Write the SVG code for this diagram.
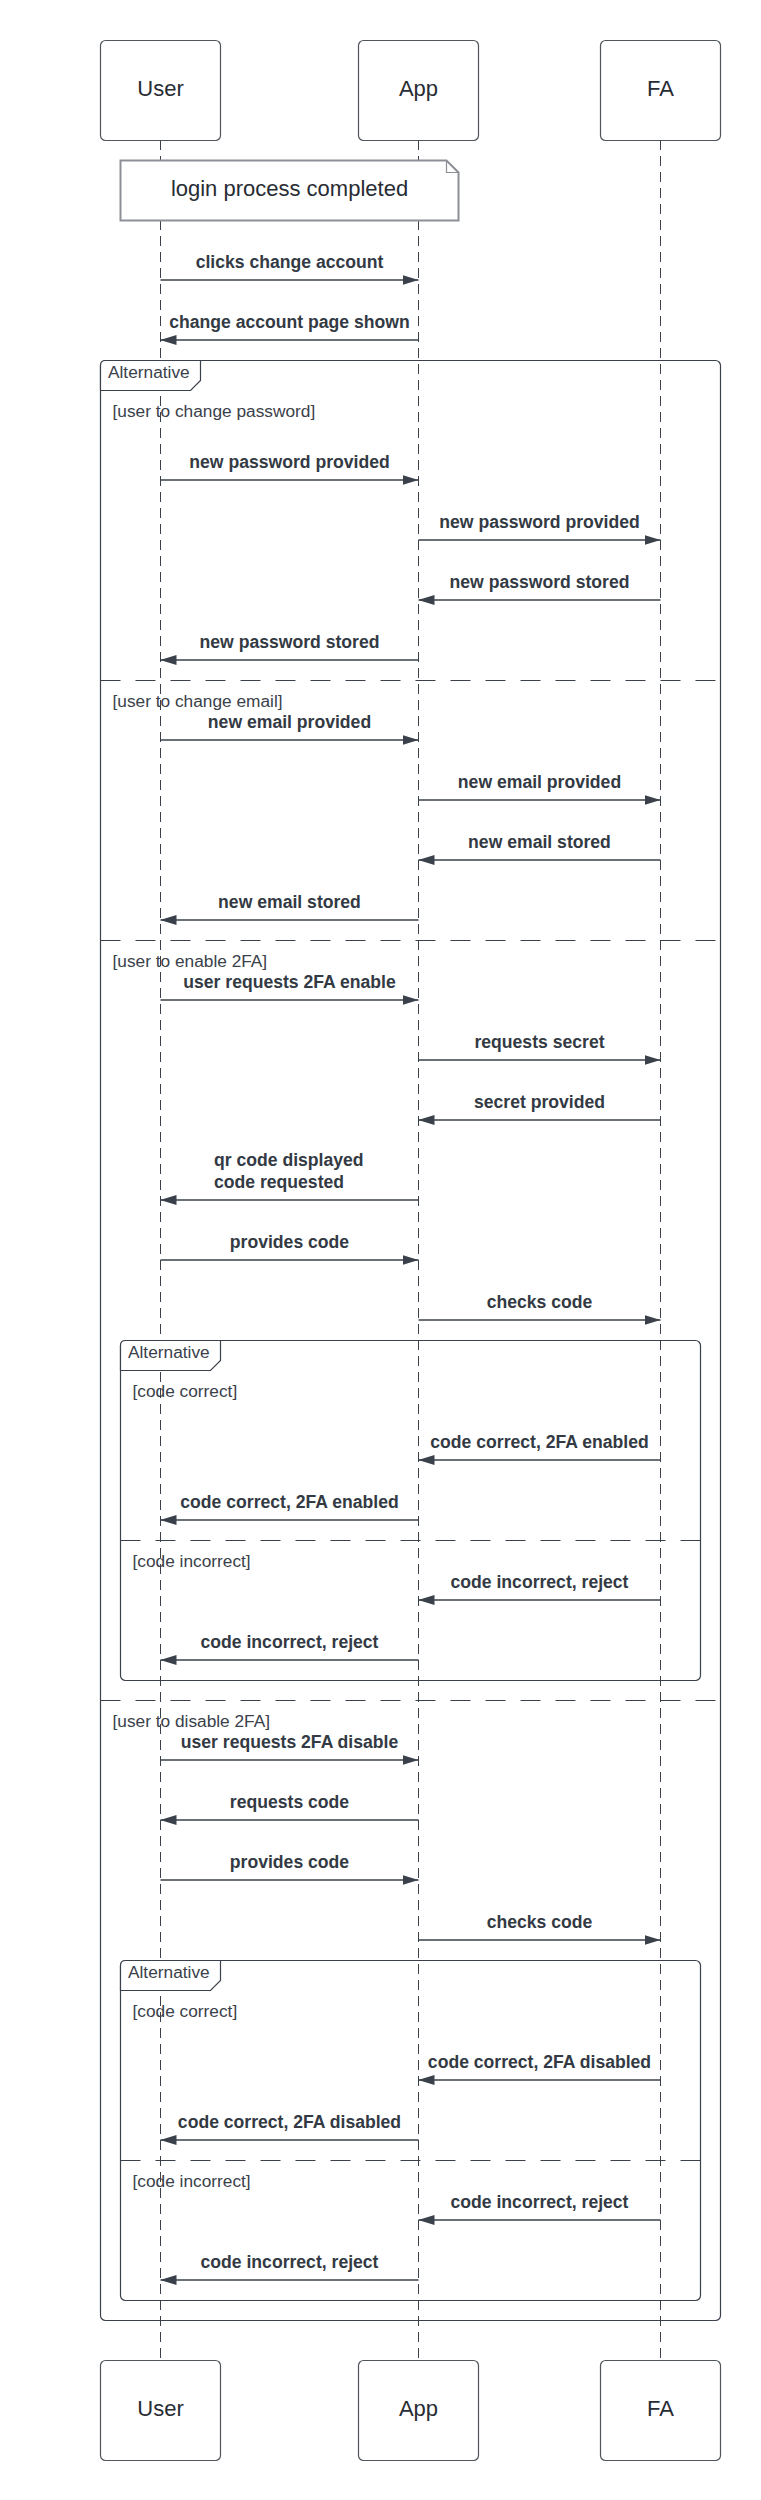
<svg xmlns="http://www.w3.org/2000/svg" width="761" height="2500" viewBox="0 0 761 2500">
<defs>
<marker id="ah" viewBox="0 0 16 10" refX="16" refY="5" markerWidth="16" markerHeight="10" markerUnits="userSpaceOnUse" orient="auto">
<path d="M0,0 L16,5 L0,10 Z" fill="#3a414a"/>
</marker>
<style>
.box{fill:#fff;stroke:#50555c;stroke-width:1.2}
.life{fill:none;stroke:#3a414a;stroke-width:1;stroke-dasharray:10 6}
.msg{fill:none;stroke:#3a414a;stroke-width:1.5;marker-end:url(#ah)}
.frame{fill:none;stroke:#3a414a;stroke-width:1.2}
.tab{fill:#fff;stroke:#3a414a;stroke-width:1.2}
.div{fill:none;stroke:#3a414a;stroke-width:1.2;stroke-dasharray:20 15}
.note{fill:#fff;stroke:#8c9096;stroke-width:2}
.lbl{font-family:"Liberation Sans",Arial,sans-serif;font-size:22px;fill:#282c33;text-anchor:middle}
.mt{font-family:"Liberation Sans",Arial,sans-serif;font-weight:bold;font-size:17.6px;fill:#333a44;text-anchor:middle}
.ml{font-family:"Liberation Sans",Arial,sans-serif;font-weight:bold;font-size:17.6px;fill:#333a44}
.ft{font-family:"Liberation Sans",Arial,sans-serif;font-size:17.3px;fill:#3a414a}
</style>
</defs>
<rect width="761" height="2500" fill="#fff"/>
<g id="lifelines">
<line class="life" x1="160.5" y1="140" x2="160.5" y2="2360"/>
<line class="life" x1="418.5" y1="140" x2="418.5" y2="2360"/>
<line class="life" x1="660.5" y1="140" x2="660.5" y2="2360"/>
</g>
<g id="participants">
<g id="user-top"><rect class="box" x="100.5" y="40.5" width="120" height="100" rx="5"/><text class="lbl" x="160.5" y="96">User</text></g>
<g id="app-top"><rect class="box" x="358.5" y="40.5" width="120" height="100" rx="5"/><text class="lbl" x="418.5" y="96">App</text></g>
<g id="fa-top"><rect class="box" x="600.5" y="40.5" width="120" height="100" rx="5"/><text class="lbl" x="660.5" y="96">FA</text></g>
<g id="user-bottom"><rect class="box" x="100.5" y="2360.5" width="120" height="100" rx="5"/><text class="lbl" x="160.5" y="2416">User</text></g>
<g id="app-bottom"><rect class="box" x="358.5" y="2360.5" width="120" height="100" rx="5"/><text class="lbl" x="418.5" y="2416">App</text></g>
<g id="fa-bottom"><rect class="box" x="600.5" y="2360.5" width="120" height="100" rx="5"/><text class="lbl" x="660.5" y="2416">FA</text></g>
</g>
<g id="note">
<path class="note" d="M120.5,160.5 H446.5 L458.5,172.5 V220.5 H120.5 Z"/>
<path fill="none" stroke="#8c9096" stroke-width="1.2" d="M446.5,160.5 V172.5 H458.5"/>
<text class="lbl" x="289.5" y="196">login process completed</text>
</g>
<g id="frames">
<g id="alt-outer">
<rect class="frame" x="100.5" y="360.5" width="620" height="1960" rx="5"/>
<path class="tab" d="M105.5,360.5 H200.5 V380.5 L190.5,390.5 H100.5 V365.5 Q100.5,360.5 105.5,360.5 Z"/>
<text class="ft" x="108" y="378.3">Alternative</text>
<text class="ft" x="112.5" y="416.7">[user to change password]</text>
<line class="div" x1="100.5" y1="680.5" x2="720.5" y2="680.5"/>
<text class="ft" x="112.5" y="706.7">[user to change email]</text>
<line class="div" x1="100.5" y1="940.5" x2="720.5" y2="940.5"/>
<text class="ft" x="112.5" y="966.7">[user to enable 2FA]</text>
<line class="div" x1="100.5" y1="1700.5" x2="720.5" y2="1700.5"/>
<text class="ft" x="112.5" y="1726.7">[user to disable 2FA]</text>
</g>
<g id="alt-inner-1">
<rect class="frame" x="120.5" y="1340.5" width="580" height="340" rx="5"/>
<path class="tab" d="M125.5,1340.5 H220.5 V1360.5 L210.5,1370.5 H120.5 V1345.5 Q120.5,1340.5 125.5,1340.5 Z"/>
<text class="ft" x="128" y="1358.3">Alternative</text>
<text class="ft" x="132.5" y="1396.7">[code correct]</text>
<line class="div" x1="120.5" y1="1540.5" x2="700.5" y2="1540.5"/>
<text class="ft" x="132.5" y="1566.7">[code incorrect]</text>
</g>
<g id="alt-inner-2">
<rect class="frame" x="120.5" y="1960.5" width="580" height="340" rx="5"/>
<path class="tab" d="M125.5,1960.5 H220.5 V1980.5 L210.5,1990.5 H120.5 V1965.5 Q120.5,1960.5 125.5,1960.5 Z"/>
<text class="ft" x="128" y="1978.3">Alternative</text>
<text class="ft" x="132.5" y="2016.7">[code correct]</text>
<line class="div" x1="120.5" y1="2160.5" x2="700.5" y2="2160.5"/>
<text class="ft" x="132.5" y="2186.7">[code incorrect]</text>
</g>
</g>
<g id="connectors">
<line class="msg" x1="160.5" y1="280" x2="418.5" y2="280"/>
<line class="msg" x1="418.5" y1="340" x2="160.5" y2="340"/>
<line class="msg" x1="160.5" y1="480" x2="418.5" y2="480"/>
<line class="msg" x1="418.5" y1="540" x2="660.5" y2="540"/>
<line class="msg" x1="660.5" y1="600" x2="418.5" y2="600"/>
<line class="msg" x1="418.5" y1="660" x2="160.5" y2="660"/>
<line class="msg" x1="160.5" y1="740" x2="418.5" y2="740"/>
<line class="msg" x1="418.5" y1="800" x2="660.5" y2="800"/>
<line class="msg" x1="660.5" y1="860" x2="418.5" y2="860"/>
<line class="msg" x1="418.5" y1="920" x2="160.5" y2="920"/>
<line class="msg" x1="160.5" y1="1000" x2="418.5" y2="1000"/>
<line class="msg" x1="418.5" y1="1060" x2="660.5" y2="1060"/>
<line class="msg" x1="660.5" y1="1120" x2="418.5" y2="1120"/>
<line class="msg" x1="418.5" y1="1200" x2="160.5" y2="1200"/>
<line class="msg" x1="160.5" y1="1260" x2="418.5" y2="1260"/>
<line class="msg" x1="418.5" y1="1320" x2="660.5" y2="1320"/>
<line class="msg" x1="660.5" y1="1460" x2="418.5" y2="1460"/>
<line class="msg" x1="418.5" y1="1520" x2="160.5" y2="1520"/>
<line class="msg" x1="660.5" y1="1600" x2="418.5" y2="1600"/>
<line class="msg" x1="418.5" y1="1660" x2="160.5" y2="1660"/>
<line class="msg" x1="160.5" y1="1760" x2="418.5" y2="1760"/>
<line class="msg" x1="418.5" y1="1820" x2="160.5" y2="1820"/>
<line class="msg" x1="160.5" y1="1880" x2="418.5" y2="1880"/>
<line class="msg" x1="418.5" y1="1940" x2="660.5" y2="1940"/>
<line class="msg" x1="660.5" y1="2080" x2="418.5" y2="2080"/>
<line class="msg" x1="418.5" y1="2140" x2="160.5" y2="2140"/>
<line class="msg" x1="660.5" y1="2220" x2="418.5" y2="2220"/>
<line class="msg" x1="418.5" y1="2280" x2="160.5" y2="2280"/>
</g>
<g id="message-labels">
<text class="mt" x="289.5" y="268.3">clicks change account</text>
<text class="mt" x="289.5" y="328.3">change account page shown</text>
<text class="mt" x="289.5" y="468.3">new password provided</text>
<text class="mt" x="539.5" y="528.3">new password provided</text>
<text class="mt" x="539.5" y="588.3">new password stored</text>
<text class="mt" x="289.5" y="648.3">new password stored</text>
<text class="mt" x="289.5" y="728.3">new email provided</text>
<text class="mt" x="539.5" y="788.3">new email provided</text>
<text class="mt" x="539.5" y="848.3">new email stored</text>
<text class="mt" x="289.5" y="908.3">new email stored</text>
<text class="mt" x="289.5" y="988.3">user requests 2FA enable</text>
<text class="mt" x="539.5" y="1048.3">requests secret</text>
<text class="mt" x="539.5" y="1108.3">secret provided</text>
<text class="ml" x="214" y="1166.3">qr code displayed</text>
<text class="ml" x="214" y="1188.3">code requested</text>
<text class="mt" x="289.5" y="1248.3">provides code</text>
<text class="mt" x="539.5" y="1308.3">checks code</text>
<text class="mt" x="539.5" y="1448.3">code correct, 2FA enabled</text>
<text class="mt" x="289.5" y="1508.3">code correct, 2FA enabled</text>
<text class="mt" x="539.5" y="1588.3">code incorrect, reject</text>
<text class="mt" x="289.5" y="1648.3">code incorrect, reject</text>
<text class="mt" x="289.5" y="1748.3">user requests 2FA disable</text>
<text class="mt" x="289.5" y="1808.3">requests code</text>
<text class="mt" x="289.5" y="1868.3">provides code</text>
<text class="mt" x="539.5" y="1928.3">checks code</text>
<text class="mt" x="539.5" y="2068.3">code correct, 2FA disabled</text>
<text class="mt" x="289.5" y="2128.3">code correct, 2FA disabled</text>
<text class="mt" x="539.5" y="2208.3">code incorrect, reject</text>
<text class="mt" x="289.5" y="2268.3">code incorrect, reject</text>
</g>
</svg>
